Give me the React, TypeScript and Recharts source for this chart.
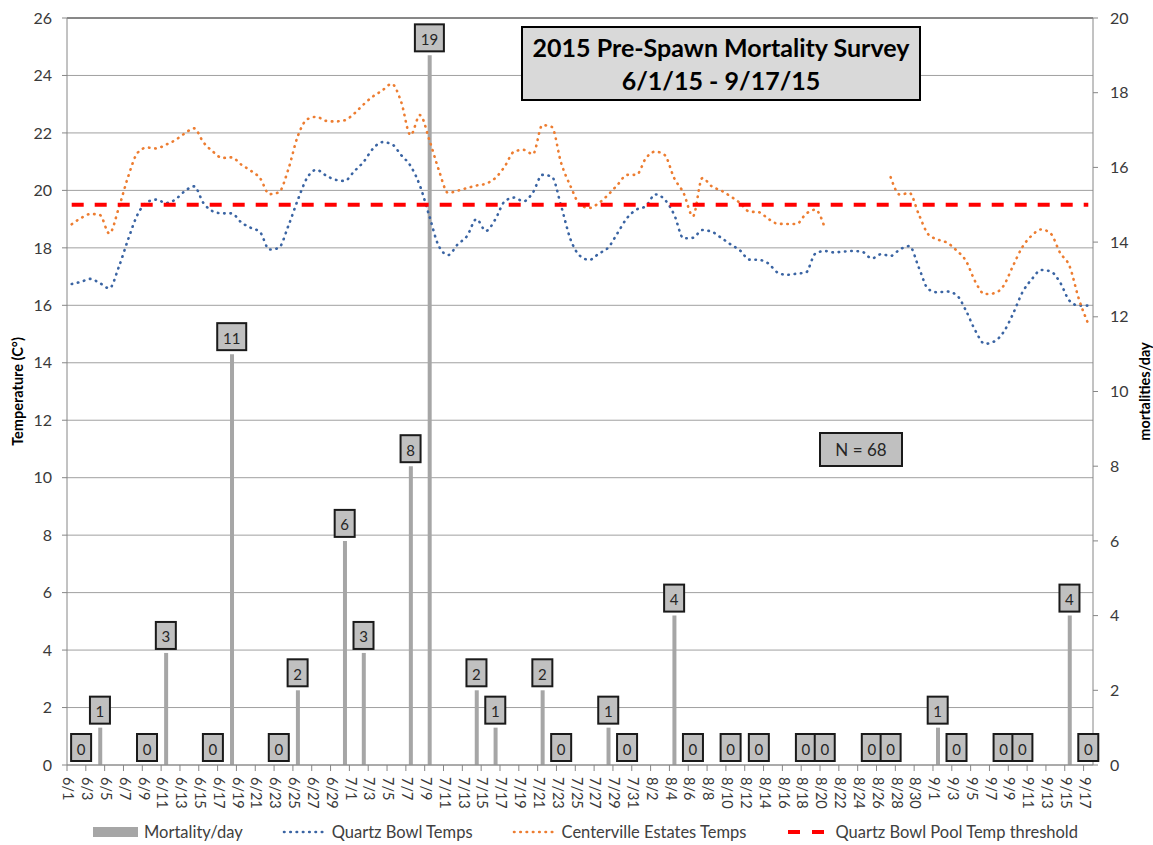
import React from 'react';
import {
  ComposedChart,
  Bar,
  Line,
  XAxis,
  YAxis,
  CartesianGrid,
  Legend,
  LabelList,
  ReferenceLine,
} from 'recharts';

// ---------- categories (one per day, 6/1 .. 9/17) ----------
const MONTH_SPANS: [number, number, number][] = [
  [6, 1, 30],
  [7, 1, 31],
  [8, 1, 31],
  [9, 1, 17],
];
const DATES: string[] = MONTH_SPANS.flatMap(([m, a, b]) => {
  const out: string[] = [];
  for (let d = a; d <= b; d++) out.push(`${m}/${d}`);
  return out;
});

// ---------- series values ----------
const QUARTZ_BOWL: number[] = [
  16.74, 16.82, 16.92, 16.77, 16.59, 17.33, 18.3, 19.16, 19.59, 19.68,
  19.56, 19.68, 19.97, 20.14, 19.56, 19.27, 19.2, 19.2, 18.89, 18.7,
  18.55, 17.94, 18.0, 18.75, 19.65, 20.43, 20.72, 20.52, 20.37, 20.33,
  20.66, 20.99, 21.45, 21.68, 21.61, 21.23, 20.85, 20.16, 19.1, 18.06,
  17.75, 18.12, 18.41, 19.0, 18.59, 18.99, 19.62, 19.75, 19.62, 19.93,
  20.54, 20.48, 19.45, 18.29, 17.72, 17.58, 17.8, 18.01, 18.52, 19.04,
  19.33, 19.45, 19.86, 19.68, 19.16, 18.33, 18.35, 18.62, 18.56, 18.35,
  18.12, 17.91, 17.59, 17.58, 17.46, 17.14, 17.06, 17.1, 17.14, 17.8,
  17.89, 17.84, 17.87, 17.89, 17.86, 17.63, 17.78, 17.72, 17.95, 18.06,
  17.31, 16.56, 16.45, 16.48, 16.36, 15.82, 15.12, 14.66, 14.74, 15.07,
  15.7, 16.45, 16.91, 17.23, 17.18, 16.8, 16.16, 15.99, 15.99,
];

const CENTERVILLE: (number | null)[] = [
  18.82, 19.04, 19.18, 19.14, 18.5, 19.39, 20.48, 21.31, 21.49, 21.46,
  21.59, 21.75, 21.98, 22.16, 21.67, 21.35, 21.13, 21.15, 20.9, 20.69,
  20.43, 19.87, 19.93, 20.72, 21.87, 22.47, 22.56, 22.42, 22.4, 22.44,
  22.67, 22.99, 23.27, 23.48, 23.71, 23.08, 21.92, 22.62, 21.75, 20.71,
  19.91, 19.99, 20.08, 20.17, 20.23, 20.43, 20.83, 21.35, 21.41, 21.26,
  22.27, 22.21, 20.95, 20.14, 19.5, 19.39, 19.56, 19.85, 20.2, 20.54,
  20.54, 21.12, 21.35, 21.23, 20.43, 19.91, 19.1, 20.43, 20.14, 19.99,
  19.79, 19.56, 19.26, 19.24, 19.01, 18.84, 18.83, 18.83, 19.18, 19.33,
  18.7, null, null, null, null, null, null, 20.46, 19.85, 19.91,
  19.16, 18.47, 18.29, 18.18, 17.91, 17.55, 16.82, 16.39, 16.42, 16.68,
  17.37, 18.03, 18.43, 18.64, 18.5, 17.83, 17.37, 16.22, 15.35,
];

const MORTALITY_DATES: string[] = [
  '6/2', '6/4', '6/9', '6/11', '6/16', '6/18', '6/23', '6/25', '6/30', '7/2',
  '7/7', '7/9', '7/14', '7/16', '7/21', '7/23', '7/28', '7/30', '8/4', '8/6',
  '8/10', '8/13', '8/18', '8/20', '8/25', '8/27', '9/1', '9/3', '9/8', '9/10',
  '9/15', '9/17',
];
const MORTALITY_COUNTS: number[] = [
  0, 1, 0, 3, 0, 11, 0, 2, 6, 3,
  8, 19, 2, 1, 2, 0, 1, 0, 4, 0,
  0, 0, 0, 0, 0, 0, 1, 0, 0, 0,
  4, 0,
];

const THRESHOLD = 19.5;
const LEFT_TICKS = [0, 2, 4, 6, 8, 10, 12, 14, 16, 18, 20, 22, 24, 26];
const RIGHT_TICKS = [0, 2, 4, 6, 8, 10, 12, 14, 16, 18, 20];

const TITLE_LINES = ['2015 Pre-Spawn Mortality Survey', '6/1/15 - 9/17/15'];
const N_TEXT = 'N = 68';

const SERIES = {
  mortality: { name: 'Mortality/day', color: '#a6a6a6' },
  quartz: { name: 'Quartz Bowl Temps', color: '#3a64a3' },
  centerville: { name: 'Centerville Estates Temps', color: '#ed7d31' },
  threshold: { name: 'Quartz Bowl Pool Temp threshold', color: '#ff0000' },
};

const rows = DATES.map((date, i) => {
  const k = MORTALITY_DATES.indexOf(date);
  return {
    date,
    quartz: QUARTZ_BOWL[i],
    centerville: CENTERVILLE[i],
    mortality: k >= 0 ? MORTALITY_COUNTS[k] : null,
    threshold: THRESHOLD,
  };
});

// ---------- layout ----------
const CHART_W = 1153;
const CHART_H = 845;
const LEFT_AXIS_W = 67;
const RIGHT_AXIS_W = 60;
const X_AXIS_H = 80;
const PLOT_W = CHART_W - LEFT_AXIS_W - RIGHT_AXIS_W;
const HALF_BAND = PLOT_W / DATES.length / 2;
const AXIS_GREY = '#868686';
const TEXT_COL = '#3a3a3a';
const DOT_DASH = '0.5 5.8';

const XTick = (props: any) => {
  const { x, y, payload } = props;
  return (
    <g>
      <line x1={x - HALF_BAND} x2={x - HALF_BAND} y1={y} y2={y + 6} stroke={AXIS_GREY} strokeWidth={1} />
      <text
        transform={`translate(${x - 3},${y + 12}) rotate(90)`}
        textAnchor="start"
        dominantBaseline="central"
        fontSize={14.5}
        fill={TEXT_COL}
      >
        {payload.value}
      </text>
    </g>
  );
};

// Boxed data label drawn above the point (x, y) of the mortality value
const BoxLabel = (props: any) => {
  const { x, y, width, value } = props;
  if (value === null || value === undefined || x === undefined || y === undefined) return null;
  const text = String(value);
  const w = text.length > 1 ? 29 : 20;
  const h = 27;
  const cx = Number(x) + (Number(width) || 0) / 2;
  const bottom = Number(y) - 4;
  return (
    <g>
      <rect x={cx - w / 2} y={bottom - h} width={w} height={h} fill="#c0c0c0" stroke="#1a1a1a" strokeWidth={2} />
      <text x={cx} y={bottom - h / 2 + 1} textAnchor="middle" dominantBaseline="central" fontSize={15} fill="#262626">
        {text}
      </text>
    </g>
  );
};

const LegendIcon = ({ kind, color }: { kind: string; color: string }) => (
  <svg width={45} height={12} style={{ display: 'block' }}>
    {kind === 'bar' && <rect x={0} y={1} width={45} height={10} fill={color} />}
    {kind === 'dot' && (
      <line x1={3} x2={43} y1={6} y2={6} stroke={color} strokeWidth={2.6} strokeDasharray={DOT_DASH} strokeLinecap="round" />
    )}
    {kind === 'dash' && (
      <line x1={4} x2={41} y1={6} y2={6} stroke={color} strokeWidth={4} strokeDasharray="12 12" />
    )}
  </svg>
);

const LEGEND_ITEMS = [
  { ...SERIES.mortality, kind: 'bar' },
  { ...SERIES.quartz, kind: 'dot' },
  { ...SERIES.centerville, kind: 'dot' },
  { ...SERIES.threshold, kind: 'dash' },
];

const LegendContent = () => (
  <div
    style={{
      display: 'flex',
      justifyContent: 'center',
      alignItems: 'center',
      gap: 38,
      paddingLeft: 18,
      fontSize: 16.5,
      color: '#404040',
      whiteSpace: 'nowrap',
      lineHeight: '20px',
    }}
  >
    {LEGEND_ITEMS.map((it) => (
      <div key={it.name} style={{ display: 'flex', alignItems: 'center', gap: 6 }}>
        <LegendIcon kind={it.kind} color={it.color} />
        <span>{it.name}</span>
      </div>
    ))}
  </div>
);

export default function App() {
  return (
    <div
      style={{
        position: 'absolute',
        left: 0,
        top: 0,
        width: CHART_W,
        height: CHART_H,
        overflow: 'hidden',
        background: '#ffffff',
        fontFamily: 'Lato, "Noto Sans", sans-serif',
      }}
    >
      <ComposedChart
        width={CHART_W}
        height={CHART_H}
        data={rows}
        margin={{ top: 18, right: 0, bottom: 0, left: 0 }}
      >
        <CartesianGrid yAxisId="left" vertical={false} stroke="#a0a0a0" strokeWidth={1} />
        <XAxis
          dataKey="date"
          interval={1}
          height={X_AXIS_H}
          tickLine={false}
          tickSize={0}
          tickMargin={0}
          tick={<XTick />}
          axisLine={{ stroke: AXIS_GREY }}
        />
        <YAxis
          yAxisId="left"
          width={LEFT_AXIS_W}
          domain={[0, 26]}
          ticks={LEFT_TICKS}
          interval={0}
          tickSize={5}
          tickMargin={10}
          tick={{ fontSize: 16, fill: TEXT_COL }}
          tickLine={{ stroke: AXIS_GREY }}
          axisLine={{ stroke: AXIS_GREY }}
          label={{
            value: 'Temperature (C°)',
            angle: -90,
            position: 'insideLeft',
            offset: 18,
            style: { textAnchor: 'middle', fontWeight: 700, fontSize: 14.5, fill: '#000' },
          }}
        />
        <YAxis
          yAxisId="right"
          orientation="right"
          width={RIGHT_AXIS_W}
          domain={[0, 20]}
          ticks={RIGHT_TICKS}
          interval={0}
          tickSize={5}
          tickMargin={12}
          tick={{ fontSize: 16, fill: TEXT_COL }}
          tickLine={{ stroke: AXIS_GREY }}
          axisLine={{ stroke: AXIS_GREY }}
          label={{
            value: 'mortalities/day',
            angle: -90,
            position: 'insideRight',
            offset: 8,
            style: { textAnchor: 'middle', fontWeight: 700, fontSize: 14.5, fill: '#000' },
          }}
        />
        <ReferenceLine yAxisId="left" y={26} stroke="#404040" strokeWidth={1.2} />
        <Bar
          yAxisId="right"
          dataKey="mortality"
          name={SERIES.mortality.name}
          fill={SERIES.mortality.color}
          barSize={4}
          isAnimationActive={false}
        />
        <Line
          yAxisId="left"
          type="monotone"
          dataKey="quartz"
          name={SERIES.quartz.name}
          stroke={SERIES.quartz.color}
          strokeWidth={2.6}
          strokeDasharray={DOT_DASH}
          strokeLinecap="round"
          dot={false}
          activeDot={false}
          isAnimationActive={false}
        />
        <Line
          yAxisId="left"
          type="monotone"
          dataKey="centerville"
          name={SERIES.centerville.name}
          stroke={SERIES.centerville.color}
          strokeWidth={2.6}
          strokeDasharray={DOT_DASH}
          strokeLinecap="round"
          dot={false}
          activeDot={false}
          connectNulls={false}
          isAnimationActive={false}
        />
        <Line
          yAxisId="left"
          type="linear"
          dataKey="threshold"
          name={SERIES.threshold.name}
          stroke={SERIES.threshold.color}
          strokeWidth={4}
          strokeDasharray="12 11"
          dot={false}
          activeDot={false}
          isAnimationActive={false}
        />
        {/* carrier for the boxed mortality data labels (including zero days) */}
        <Line
          yAxisId="right"
          type="linear"
          dataKey="mortality"
          name="mortality labels"
          legendType="none"
          stroke="none"
          dot={false}
          activeDot={false}
          connectNulls={false}
          isAnimationActive={false}
        >
          <LabelList dataKey="mortality" content={<BoxLabel />} />
        </Line>
        <Legend
          verticalAlign="middle"
          align="center"
          layout="horizontal"
          content={<LegendContent />}
          wrapperStyle={{ top: 822, left: 0, width: CHART_W, height: 20 }}
        />
      </ComposedChart>

      <div
        style={{
          position: 'absolute',
          left: 521,
          top: 26,
          width: 400,
          height: 75,
          boxSizing: 'border-box',
          background: '#d9d9d9',
          border: '2px solid #000',
          display: 'flex',
          flexDirection: 'column',
          justifyContent: 'center',
          alignItems: 'center',
          fontWeight: 700,
          fontSize: 25,
          lineHeight: '33px',
          color: '#000',
        }}
      >
        {TITLE_LINES.map((t) => (
          <div key={t}>{t}</div>
        ))}
      </div>

      <div
        style={{
          position: 'absolute',
          left: 819,
          top: 432,
          width: 84,
          height: 35,
          boxSizing: 'border-box',
          background: '#c0c0c0',
          border: '2px solid #1a1a1a',
          display: 'flex',
          justifyContent: 'center',
          alignItems: 'center',
          fontSize: 17,
          color: '#262626',
        }}
      >
        {N_TEXT}
      </div>
    </div>
  );
}
